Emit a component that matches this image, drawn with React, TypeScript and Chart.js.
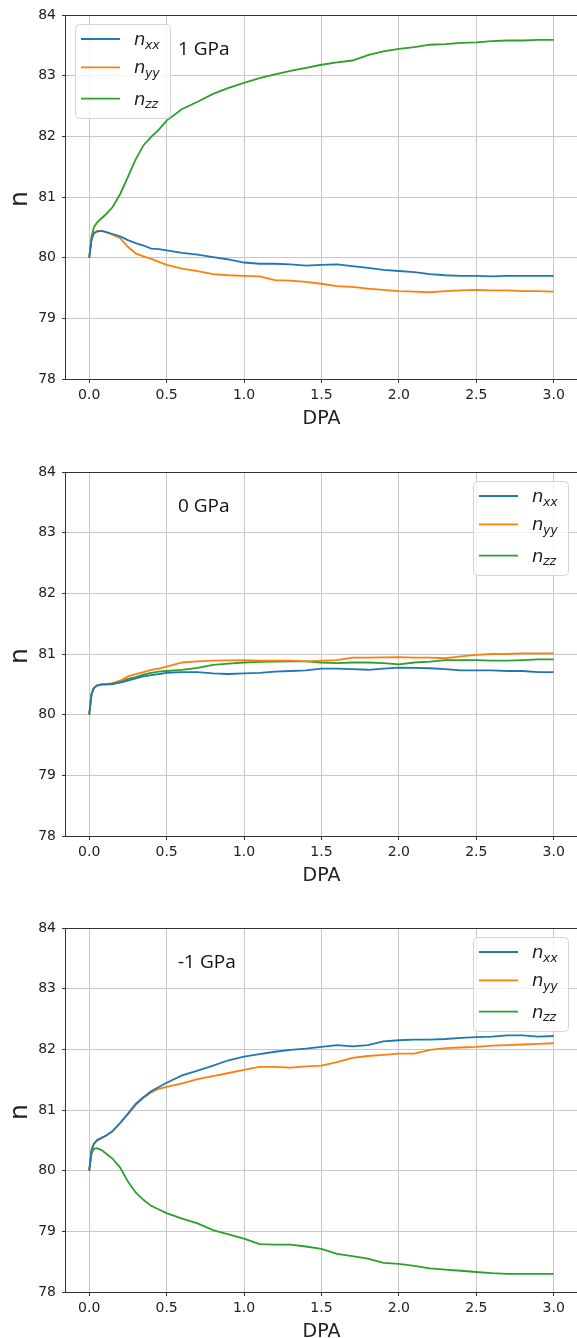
import { useEffect, useRef } from "react";
import { Chart, registerables } from "chart.js";

Chart.register(...registerables);

// Shared damage axis (DPA) sample points
const DPA = [
  0, 0.015, 0.03, 0.05, 0.08, 0.11, 0.15, 0.2, 0.25, 0.3, 0.35, 0.4, 0.45, 0.5,
  0.6, 0.7, 0.8, 0.9, 1.0, 1.1, 1.2, 1.3, 1.4, 1.5, 1.6, 1.7, 1.8, 1.9, 2.0,
  2.1, 2.2, 2.3, 2.4, 2.5, 2.6, 2.7, 2.8, 2.9, 3.0,
];

const DPA_TICKS = [0, 0.5, 1.0, 1.5, 2.0, 2.5, 3.0];
const N_TICKS = [78, 79, 80, 81, 82, 83, 84];

// 1 GPa
const NXX_P1 = [
  80.0, 80.3, 80.4, 80.43, 80.44, 80.42, 80.39, 80.35, 80.29, 80.24, 80.2, 80.15, 80.14, 80.12,
  80.08, 80.05, 80.01, 79.97, 79.92, 79.9, 79.9, 79.89, 79.87, 79.88, 79.89, 79.86, 79.83, 79.8, 79.78,
  79.76, 79.73, 79.71, 79.7, 79.7, 79.69, 79.7, 79.7, 79.7, 79.7,
];
const NYY_P1 = [
  80.0, 80.3, 80.41, 80.44, 80.44, 80.42, 80.38, 80.32, 80.18, 80.07, 80.02, 79.98, 79.93, 79.88,
  79.82, 79.78, 79.73, 79.71, 79.7, 79.69, 79.63, 79.62, 79.6, 79.57, 79.53, 79.52, 79.49, 79.47, 79.45,
  79.44, 79.43, 79.45, 79.46, 79.47, 79.46, 79.46, 79.45, 79.45, 79.44,
];
const NZZ_P1 = [
  80.0, 80.35, 80.5, 80.58, 80.65, 80.72, 80.83, 81.05, 81.33, 81.62, 81.85, 81.99, 82.11, 82.26,
  82.45, 82.57, 82.7, 82.8, 82.88, 82.96, 83.02, 83.08, 83.13, 83.18, 83.22, 83.25, 83.34, 83.4, 83.44,
  83.47, 83.51, 83.52, 83.54, 83.55, 83.57, 83.58, 83.58, 83.59, 83.59,
];

// 0 GPa
const NXX_P0 = [
  80.0, 80.34, 80.44, 80.48, 80.5, 80.5, 80.51, 80.53, 80.56, 80.6, 80.63, 80.65, 80.67, 80.69,
  80.7, 80.7, 80.68, 80.67, 80.68, 80.69, 80.71, 80.72, 80.73, 80.76, 80.76, 80.75, 80.74, 80.76, 80.775,
  80.77, 80.765, 80.75, 80.73, 80.73, 80.73, 80.72, 80.72, 80.7, 80.7,
];
const NYY_P0 = [
  80.0, 80.34, 80.44, 80.48, 80.5, 80.5, 80.52, 80.56, 80.63, 80.67, 80.7, 80.74, 80.76, 80.79,
  80.86, 80.88, 80.89, 80.895, 80.9, 80.89, 80.89, 80.89, 80.88, 80.89, 80.9, 80.94, 80.94, 80.945, 80.95,
  80.94, 80.94, 80.93, 80.96, 80.985, 81.0, 81.0, 81.01, 81.01, 81.01,
];
const NZZ_P0 = [
  80.0, 80.34, 80.44, 80.48, 80.5, 80.5, 80.5, 80.54, 80.59, 80.62, 80.66, 80.69, 80.71, 80.72,
  80.74, 80.77, 80.82, 80.84, 80.86, 80.87, 80.875, 80.88, 80.88, 80.86, 80.85, 80.86, 80.86, 80.85, 80.83,
  80.86, 80.875, 80.9, 80.9, 80.9, 80.89, 80.89, 80.9, 80.91, 80.91,
];

// -1 GPa
const NXX_M1 = [
  80.0, 80.34, 80.44, 80.5, 80.54, 80.58, 80.65, 80.79, 80.94, 81.1, 81.21, 81.31, 81.38, 81.45,
  81.57, 81.65, 81.73, 81.82, 81.88, 81.92, 81.96, 81.99, 82.01, 82.04, 82.07, 82.05, 82.07, 82.13, 82.15,
  82.16, 82.16, 82.17, 82.19, 82.2, 82.21, 82.23, 82.23, 82.21, 82.22,
];
const NYY_M1 = [
  80.0, 80.34, 80.44, 80.5, 80.54, 80.58, 80.65, 80.78, 80.93, 81.08, 81.2, 81.29, 81.35, 81.38,
  81.44, 81.51, 81.56, 81.61, 81.66, 81.71, 81.71, 81.7, 81.72, 81.73, 81.79, 81.86, 81.89, 81.91, 81.93,
  81.93, 81.99, 82.02, 82.03, 82.04, 82.06, 82.07, 82.08, 82.09, 82.1,
];
const NZZ_M1 = [
  80.0, 80.28, 80.36, 80.37, 80.34, 80.28, 80.2, 80.05, 79.82, 79.64, 79.52, 79.42, 79.36, 79.3,
  79.21, 79.13, 79.02, 78.95, 78.88, 78.79, 78.78, 78.78, 78.75, 78.71, 78.63, 78.59, 78.55, 78.48, 78.465,
  78.43, 78.39, 78.37, 78.35, 78.33, 78.31, 78.3, 78.3, 78.3, 78.3,
];

const SUBSCRIPTS = ["xx", "yy", "zz"];
const COLORS = ["#1f77b4", "#ff7f0e", "#2ca02c"];

const PANELS = [
  { label: "1 GPa", legendSide: "left", series: [NXX_P1, NYY_P1, NZZ_P1] },
  { label: "0 GPa", legendSide: "right", series: [NXX_P0, NYY_P0, NZZ_P0] },
  { label: "-1 GPa", legendSide: "right", series: [NXX_M1, NYY_M1, NZZ_M1] },
];

const CANVAS_W = 580;
const CANVAS_H = 457;
const PANEL_STEP = [0, 457, 913];
// visible right edge of the axes box (the page is 577 px wide)
const FRAME_RIGHT = 577;

const TICK_FONT = { family: "'DejaVu Sans'", size: 14 };
const INK = "#222222";

function drawMathLabel(ctx: CanvasRenderingContext2D, x: number, y: number, sub: string) {
  ctx.fillStyle = INK;
  ctx.textAlign = "left";
  ctx.textBaseline = "alphabetic";
  ctx.font = "italic 18px 'DejaVu Sans'";
  ctx.fillText("n", x, y);
  const w = ctx.measureText("n").width;
  ctx.font = "italic 12.6px 'DejaVu Sans'";
  ctx.fillText(sub, x + w - 0.5, y + 3.5);
}

const decorPlugin = {
  id: "decor",
  afterDatasetsDraw(chart: any, _args: any, opts: any) {
    const { ctx, chartArea: a } = chart;
    ctx.save();

    // spines: left, top, bottom (the right one falls past the page edge)
    const x1 = Math.floor(a.left) - 0.5;
    const y1 = Math.floor(a.top) + 0.5;
    const y2 = Math.floor(a.bottom) + 0.5;
    const x2 = chart.width;
    ctx.strokeStyle = "#333333";
    ctx.lineWidth = 1;
    ctx.beginPath();
    ctx.moveTo(x2, y1);
    ctx.lineTo(x1, y1);
    ctx.lineTo(x1, y2);
    ctx.lineTo(x2, y2);
    ctx.stroke();

    const midX = (a.left + FRAME_RIGHT) / 2;

    // axis titles
    ctx.fillStyle = INK;
    ctx.font = "19px 'DejaVu Sans'";
    ctx.textAlign = "center";
    ctx.textBaseline = "alphabetic";
    ctx.fillText("DPA", midX, a.bottom + 45);

    ctx.save();
    ctx.translate(27, (a.top + a.bottom) / 2 + 2);
    ctx.rotate(-Math.PI / 2);
    ctx.font = "25px 'DejaVu Sans'";
    ctx.textAlign = "center";
    ctx.fillText("n", 0, 0);
    ctx.restore();

    // pressure annotation
    ctx.font = "19px 'Open Sans'";
    ctx.textAlign = "left";
    ctx.fillStyle = "#111111";
    ctx.fillText(opts.label, a.left + 112, a.top + 39.5);

    // legend
    const w = 95;
    const h = 94;
    const lx = opts.legendSide === "left" ? a.left + 9 : FRAME_RIGHT - 9 - w;
    const ly = a.top + 9;
    ctx.beginPath();
    ctx.roundRect(lx + 0.5, ly + 0.5, w, h, 4);
    ctx.fillStyle = "rgba(255,255,255,0.8)";
    ctx.fill();
    ctx.strokeStyle = "#d4d4d4";
    ctx.lineWidth = 1;
    ctx.stroke();

    const rowY = [15, 43.3, 74.7];
    chart.data.datasets.forEach((ds: any, i: number) => {
      const y = ly + rowY[i];
      ctx.beginPath();
      ctx.moveTo(lx + 6, y);
      ctx.lineTo(lx + 45, y);
      ctx.strokeStyle = ds.borderColor;
      ctx.lineWidth = 1.8;
      ctx.stroke();
      drawMathLabel(ctx, lx + 59, y + 6, SUBSCRIPTS[i]);
    });

    ctx.restore();
  },
};

function Panel({ index }: { index: number }) {
  const ref = useRef<HTMLCanvasElement | null>(null);

  useEffect(() => {
    const panel = PANELS[index];
    const canvas = ref.current;
    if (!canvas) return;
    const chart = new Chart(canvas, {
      type: "line",
      data: {
        datasets: panel.series.map((vals, i) => ({
          label: "n" + SUBSCRIPTS[i],
          data: DPA.map((x, j) => ({ x, y: vals[j] })),
          borderColor: COLORS[i],
          backgroundColor: COLORS[i],
          borderWidth: 1.8,
          pointRadius: 0,
          tension: 0,
          fill: false,
        })),
      },
      options: {
        animation: false,
        responsive: false,
        devicePixelRatio: 1,
        layout: { padding: { top: 15, right: 0, bottom: 0, left: 0 } },
        plugins: {
          legend: { display: false },
          tooltip: { enabled: false },
          decor: { label: panel.label, legendSide: panel.legendSide },
        } as any,
        scales: {
          x: {
            type: "linear",
            min: -0.15,
            max: 3.17,
            afterBuildTicks: (s: any) => {
              s.ticks = DPA_TICKS.map((v) => ({ value: v }));
            },
            afterFit: (s: any) => {
              s.height = 78;
            },
            ticks: {
              callback: (v: any) => Number(v).toFixed(1),
              font: TICK_FONT,
              color: INK,
              padding: 4,
              maxRotation: 0,
              autoSkip: false,
            },
            grid: {
              color: "#c8c8c8",
              lineWidth: 1,
              tickColor: "#333333",
              tickLength: 4,
              drawTicks: true,
            },
            border: { display: false },
          },
          y: {
            type: "linear",
            min: 78,
            max: 84,
            afterBuildTicks: (s: any) => {
              s.ticks = N_TICKS.map((v) => ({ value: v }));
            },
            afterFit: (s: any) => {
              s.width = 66;
            },
            ticks: {
              callback: (v: any) => String(v),
              font: TICK_FONT,
              color: INK,
              padding: 6,
              autoSkip: false,
            },
            grid: {
              color: "#c8c8c8",
              lineWidth: 1,
              tickColor: "#333333",
              tickLength: 4,
              drawTicks: true,
            },
            border: { display: false },
          },
        },
      },
      plugins: [decorPlugin],
    } as any);
    return () => chart.destroy();
  }, [index]);

  return (
    <canvas
      ref={ref}
      width={CANVAS_W}
      height={CANVAS_H}
      style={{
        position: "absolute",
        left: 0,
        top: PANEL_STEP[index],
        width: CANVAS_W,
        height: CANVAS_H,
      }}
    />
  );
}

export default function App() {
  return (
    <div
      style={{
        position: "absolute",
        left: 0,
        top: 0,
        width: 577,
        height: 1338,
        overflow: "hidden",
        background: "#ffffff",
      }}
    >
      {PANELS.map((_, i) => (
        <Panel key={i} index={i} />
      ))}
    </div>
  );
}
